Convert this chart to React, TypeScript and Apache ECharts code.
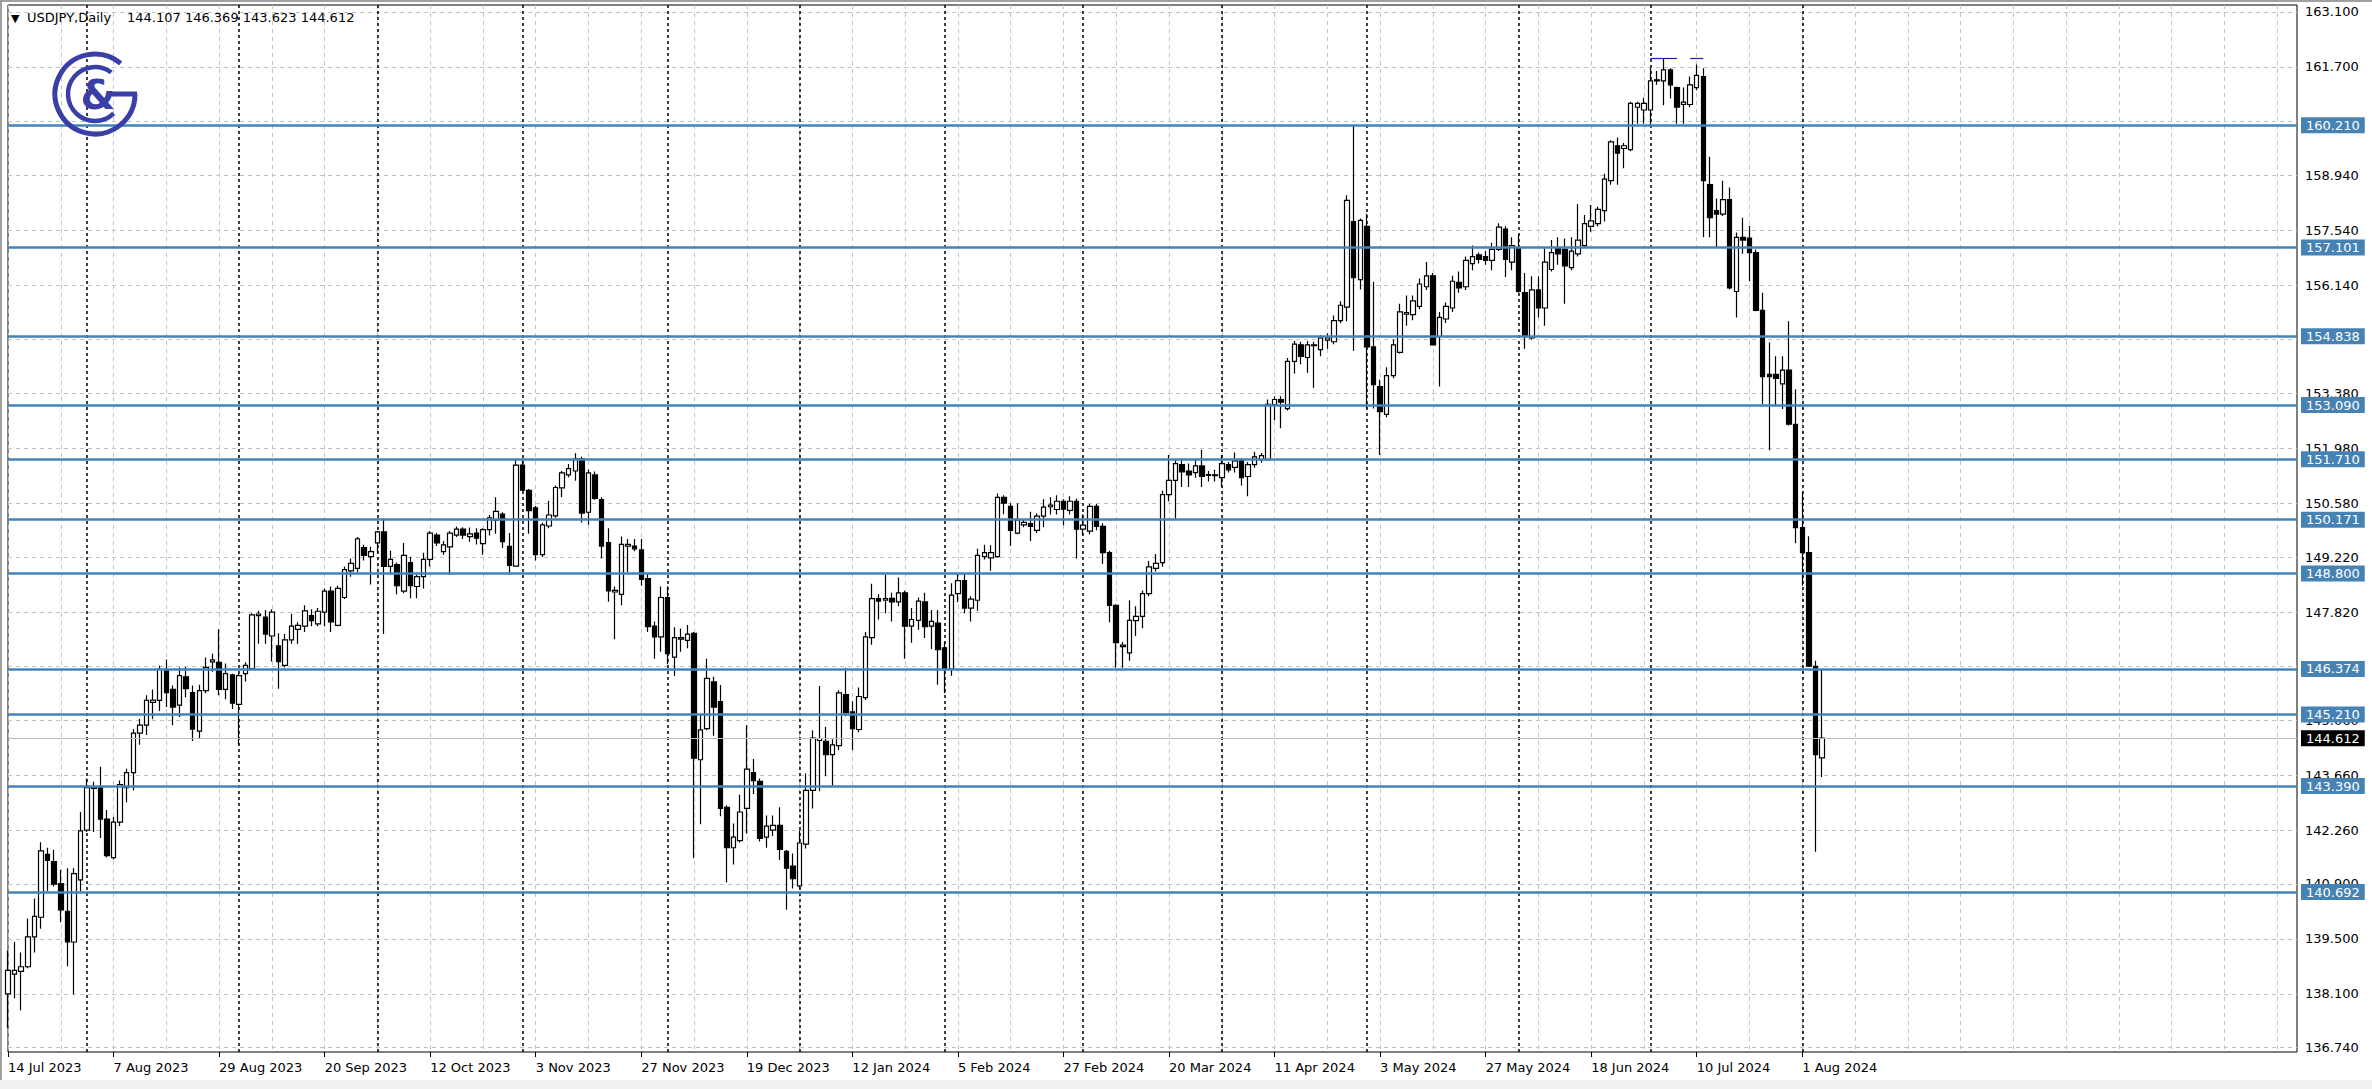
import React, { useEffect, useRef } from "react";
import * as echarts from "echarts";

// ---------- DATA ----------
const opens = [
  138.10, 138.60, 138.67, 138.79, 139.55, 140.05, 141.65, 141.47, 140.91, 140.20,
  139.42, 141.00, 142.27, 143.33, 143.35, 142.55, 141.57, 142.47, 143.35, 143.73,
  144.74, 144.94, 145.52, 145.57, 146.36, 145.85, 145.45, 146.17, 145.77, 144.79,
  145.82, 146.55, 146.54, 145.85, 146.22, 145.47, 146.25, 146.38, 147.73, 147.69,
  147.21, 146.96, 146.46, 147.11, 147.38, 147.46, 147.73, 147.52, 147.82, 148.35,
  147.48, 148.19, 148.87, 148.93, 149.46, 149.23, 149.58, 149.86, 148.98, 149.03,
  148.35, 149.08, 148.47, 148.72, 149.16, 149.78, 149.36, 149.48, 149.78, 149.93,
  149.74, 149.83, 149.56, 149.92, 150.16, 150.31, 149.49, 148.99, 151.56, 150.92,
  150.47, 149.28, 150.01, 150.27, 150.98, 151.31, 151.41, 151.72, 150.36, 151.31,
  150.68, 149.59, 148.33, 148.27, 149.50, 149.50, 149.40, 148.67, 147.46, 147.19,
  148.19, 146.67, 147.13, 147.10, 147.28, 144.06, 144.85, 146.04, 145.54, 142.85,
  141.82, 142.00, 142.82, 143.73, 143.51, 142.09, 142.27, 142.39, 141.73, 141.35,
  140.85, 141.91, 143.28, 144.55, 144.53, 144.19, 144.42, 145.72, 145.28, 144.83,
  145.64, 147.17, 148.16, 148.12, 148.17, 148.08, 148.31, 147.46, 147.61, 148.08,
  147.46, 147.54, 146.91, 146.37, 148.29, 148.62, 147.92, 148.12, 149.23, 149.20,
  149.23, 150.74, 150.51, 149.83, 150.04, 150.07, 149.90, 150.26, 150.50, 150.43,
  150.64, 150.41, 150.64, 149.93, 149.88, 150.51, 150.00, 149.33, 147.99, 146.94,
  146.78, 147.60, 147.71, 148.29, 148.93, 149.08, 150.81, 151.17, 151.57, 151.41,
  151.37, 151.54, 151.30, 151.31, 151.24, 151.57, 151.50, 151.69, 151.27, 151.57,
  151.70, 151.70, 153.10, 153.23, 153.00, 154.20, 154.62, 154.30, 154.60, 154.50,
  154.74, 154.70, 155.24, 155.58, 157.76, 156.28, 157.64, 154.57, 153.56, 152.85,
  153.84, 154.43, 155.40, 155.39, 155.60, 156.10, 156.38, 154.83, 155.28, 155.56,
  156.21, 156.10, 156.69, 156.91, 156.87, 156.77, 157.05, 157.57, 156.73, 157.08,
  155.95, 154.80, 156.02, 155.56, 156.54, 157.08, 157.05, 156.59, 156.94, 157.15,
  157.64, 157.71, 158.04, 158.80, 159.69, 159.62, 159.59, 160.67, 160.60, 160.60,
  161.37, 161.34, 161.62, 161.17, 160.74, 160.74, 161.17, 161.45, 158.70, 158.04,
  157.95, 158.32, 155.98, 157.36, 157.34, 156.97, 155.50, 153.87, 153.87, 153.63,
  153.98, 152.60, 149.97, 149.33, 146.44, 144.107,
];
const highs = [
  139.20, 139.42, 139.15, 140.02, 140.53, 141.96, 141.82, 141.77, 141.26, 141.30,
  141.30, 142.73, 143.58, 143.50, 143.88, 142.78, 142.60, 143.53, 143.83, 144.84,
  145.10, 145.70, 145.85, 146.46, 146.61, 145.95, 146.41, 146.42, 145.95, 145.97,
  146.66, 146.76, 147.38, 146.51, 146.25, 146.25, 146.54, 147.79, 147.85, 147.87,
  147.89, 147.28, 147.26, 147.77, 147.56, 147.99, 147.89, 147.92, 148.42, 148.47,
  148.49, 148.98, 149.18, 149.73, 149.53, 149.48, 149.88, 150.21, 149.38, 149.08,
  149.58, 149.23, 148.77, 149.33, 149.88, 149.83, 149.63, 149.88, 150.00, 149.98,
  149.97, 149.95, 149.95, 150.29, 150.74, 150.36, 149.83, 151.72, 151.72, 150.95,
  150.52, 150.09, 150.65, 151.04, 151.41, 151.59, 151.86, 151.77, 151.45, 151.40,
  150.74, 149.95, 148.47, 149.74, 149.68, 149.68, 149.68, 148.81, 147.58, 148.47,
  148.47, 147.43, 147.40, 147.49, 147.31, 145.22, 146.63, 146.17, 145.96, 142.90,
  142.44, 143.17, 144.94, 144.08, 143.58, 142.64, 142.64, 142.85, 141.76, 141.67,
  142.26, 143.71, 144.81, 145.94, 144.90, 144.58, 145.83, 146.40, 145.55, 145.90,
  147.31, 148.54, 148.27, 148.77, 148.31, 148.70, 148.36, 147.92, 148.19, 148.31,
  147.87, 147.87, 147.06, 148.55, 148.82, 148.79, 148.22, 149.43, 149.53, 149.52,
  150.84, 150.79, 150.59, 150.59, 150.16, 150.37, 150.33, 150.69, 150.74, 150.79,
  150.69, 150.77, 150.71, 150.30, 150.57, 150.57, 150.08, 149.38, 148.02, 147.06,
  148.12, 147.97, 148.37, 149.12, 149.30, 150.91, 151.82, 151.70, 151.72, 151.60,
  151.72, 151.95, 151.41, 151.44, 151.82, 151.64, 151.88, 151.74, 151.64, 151.90,
  151.87, 153.23, 153.31, 153.31, 154.29, 154.72, 154.70, 154.72, 154.70, 154.87,
  154.92, 155.37, 155.73, 158.43, 160.21, 157.84, 157.96, 156.23, 153.73, 154.05,
  154.76, 155.67, 155.88, 155.88, 156.31, 156.73, 156.45, 155.46, 155.70, 156.38,
  156.49, 156.87, 157.15, 156.97, 157.01, 157.22, 157.72, 157.64, 157.36, 157.43,
  156.45, 156.37, 156.37, 157.08, 157.29, 157.36, 157.33, 157.36, 158.21, 157.93,
  158.18, 158.14, 158.98, 159.83, 159.90, 159.76, 160.81, 160.81, 160.91, 161.66,
  161.59, 161.90, 161.66, 161.20, 161.17, 161.45, 161.76, 161.66, 159.41, 158.35,
  158.80, 158.63, 157.48, 157.86, 157.65, 157.05, 155.95, 154.68, 154.33, 154.33,
  155.22, 153.49, 150.88, 149.75, 146.58, 146.369,
];
const lows = [
  137.24, 137.99, 137.68, 138.75, 139.15, 139.76, 140.71, 140.83, 139.92, 138.80,
  138.09, 140.71, 142.22, 142.22, 142.07, 141.57, 141.52, 142.37, 142.98, 143.28,
  144.44, 144.69, 145.09, 145.30, 145.40, 144.94, 145.15, 145.65, 144.54, 144.59,
  145.75, 146.30, 145.70, 145.60, 145.35, 144.44, 146.05, 146.36, 147.01, 147.01,
  146.56, 145.87, 146.41, 147.01, 147.01, 147.31, 147.46, 147.46, 147.46, 147.31,
  147.46, 148.15, 148.72, 148.83, 149.13, 148.52, 149.33, 147.26, 148.78, 148.27,
  148.30, 148.17, 148.17, 148.42, 148.98, 149.50, 149.28, 148.76, 149.73, 149.68,
  149.61, 149.54, 149.28, 149.77, 149.81, 149.45, 148.77, 148.97, 150.90, 149.81,
  149.13, 149.22, 149.95, 150.22, 150.74, 151.25, 151.16, 150.10, 150.04, 150.68,
  149.18, 148.08, 147.13, 147.99, 148.83, 149.37, 148.49, 147.31, 146.63, 146.81,
  146.49, 146.19, 146.81, 146.90, 141.55, 142.42, 144.81, 144.67, 142.62, 140.94,
  141.39, 141.95, 142.18, 143.19, 141.98, 141.82, 142.12, 141.51, 140.24, 140.78,
  140.76, 141.80, 142.82, 143.26, 143.64, 143.40, 144.31, 145.17, 144.31, 144.76,
  145.58, 146.99, 147.63, 147.79, 147.58, 147.97, 146.63, 147.04, 147.37, 147.16,
  146.88, 145.97, 145.75, 146.20, 148.07, 147.79, 147.58, 147.85, 149.16, 148.87,
  149.20, 150.31, 149.50, 149.80, 149.98, 149.63, 149.83, 149.98, 150.30, 150.30,
  150.03, 150.30, 149.18, 149.78, 149.80, 149.90, 149.05, 147.56, 146.40, 146.40,
  146.58, 147.21, 147.41, 148.22, 148.85, 148.97, 150.64, 150.20, 151.00, 151.00,
  151.24, 151.00, 151.14, 151.14, 151.01, 151.37, 151.37, 151.04, 150.77, 151.49,
  151.62, 151.68, 152.70, 152.50, 152.95, 153.89, 154.13, 153.91, 153.53, 154.33,
  154.52, 154.64, 155.17, 155.22, 154.47, 156.03, 153.00, 153.00, 151.82, 152.78,
  153.77, 154.40, 155.11, 155.25, 155.53, 156.02, 154.60, 153.56, 155.18, 155.46,
  155.95, 156.02, 156.52, 156.69, 156.66, 156.52, 157.01, 156.35, 156.52, 155.95,
  154.52, 154.76, 155.32, 155.11, 156.49, 156.66, 155.67, 156.52, 156.87, 157.11,
  157.50, 157.64, 157.76, 158.70, 158.70, 159.12, 159.55, 160.25, 160.25, 160.21,
  161.24, 160.72, 160.89, 160.25, 160.25, 160.67, 161.10, 157.36, 157.36, 157.11,
  157.90, 156.03, 155.32, 156.94, 156.24, 155.48, 153.11, 151.94, 153.06, 152.99,
  152.57, 149.57, 148.49, 146.42, 141.72, 143.623,
];
const closes = [
  138.70, 138.70, 138.79, 139.55, 140.07, 141.74, 141.50, 140.89, 140.24, 139.42,
  141.16, 142.25, 143.35, 143.37, 142.55, 141.62, 142.47, 143.43, 143.73, 144.74,
  144.94, 145.57, 145.58, 146.36, 145.77, 145.40, 146.20, 145.87, 144.84, 145.82,
  146.41, 146.60, 145.85, 146.25, 145.50, 146.20, 146.46, 147.75, 147.77, 147.26,
  147.82, 146.56, 147.11, 147.46, 147.48, 147.85, 147.60, 147.84, 148.35, 147.57,
  148.42, 148.90, 149.06, 149.68, 149.26, 149.36, 149.86, 148.98, 149.16, 148.49,
  149.26, 148.49, 148.72, 149.16, 149.83, 149.58, 149.53, 149.83, 149.93, 149.78,
  149.81, 149.70, 149.92, 150.22, 150.38, 149.61, 149.01, 151.56, 150.92, 150.40,
  149.28, 150.04, 150.29, 150.99, 151.36, 151.47, 151.72, 150.34, 151.36, 150.71,
  149.50, 148.36, 148.37, 149.54, 149.54, 149.43, 148.65, 147.45, 147.19, 148.19,
  146.76, 147.17, 147.17, 147.26, 144.10, 144.82, 146.13, 145.40, 142.82, 141.82,
  142.09, 142.73, 143.82, 143.53, 142.06, 142.37, 142.39, 141.78, 141.30, 141.03,
  141.94, 143.28, 144.61, 144.60, 144.19, 144.44, 145.76, 145.26, 144.85, 145.67,
  147.19, 148.16, 148.10, 148.16, 148.08, 148.31, 147.46, 147.63, 148.10, 147.45,
  147.58, 146.86, 146.37, 148.25, 148.62, 147.92, 148.15, 149.26, 149.33, 149.33,
  150.74, 150.59, 149.90, 150.16, 150.10, 150.00, 150.26, 150.49, 150.54, 150.64,
  150.44, 150.64, 149.93, 150.03, 150.51, 150.00, 149.33, 147.99, 147.04, 146.98,
  147.61, 147.71, 148.29, 148.97, 149.06, 150.81, 151.17, 151.60, 151.39, 151.31,
  151.54, 151.27, 151.32, 151.29, 151.60, 151.44, 151.67, 151.24, 151.57, 151.77,
  151.80, 153.11, 153.23, 153.16, 154.20, 154.64, 154.33, 154.62, 154.62, 154.80,
  154.80, 155.24, 155.63, 158.30, 156.33, 157.79, 154.57, 153.61, 152.92, 153.84,
  154.62, 155.46, 155.44, 155.74, 156.17, 156.38, 154.62, 155.32, 155.60, 156.24,
  156.07, 156.77, 156.87, 156.80, 156.77, 157.05, 157.62, 156.80, 157.15, 155.98,
  154.83, 156.02, 155.56, 156.73, 156.97, 156.94, 156.63, 157.01, 157.29, 157.71,
  157.78, 158.07, 158.84, 159.79, 159.50, 159.69, 160.77, 160.77, 160.77, 161.34,
  161.34, 161.62, 161.24, 160.67, 160.80, 161.24, 161.48, 158.80, 157.86, 157.95,
  158.32, 156.07, 157.36, 157.29, 156.97, 155.50, 153.81, 153.81, 153.77, 153.98,
  152.60, 149.97, 149.33, 146.44, 144.19, 144.612,
];

// categories: trading days from 14 Jul 2023 (broker skips these holidays)
const firstDay = [2023, 6, 14];
const skippedDays = ["2023-12-25", "2024-01-01"];
const futureSlots = 72;

const dateTickLabels = [
  "14 Jul 2023", "7 Aug 2023", "29 Aug 2023", "20 Sep 2023", "12 Oct 2023",
  "3 Nov 2023", "27 Nov 2023", "19 Dec 2023", "12 Jan 2024", "5 Feb 2024",
  "27 Feb 2024", "20 Mar 2024", "11 Apr 2024", "3 May 2024", "27 May 2024",
  "18 Jun 2024", "10 Jul 2024", "1 Aug 2024",
];

const priceTicks = [
  163.1, 161.7, 160.32, 158.94, 157.54, 156.14, 154.76, 153.38, 151.98, 150.58,
  149.22, 147.82, 146.44, 145.06, 143.66, 142.26, 140.9, 139.5, 138.1, 136.74,
];
const hiddenTicks = [160.32, 146.44];

const levelValues = [160.21, 157.101, 154.838, 153.09, 151.71, 150.171, 148.8, 146.374, 145.21, 143.39, 140.692];
const lastPrice = 144.612;
const topMarkPrice = 161.92;
const topMarkSpans = [[249, 253], [255, 257]];

const titleSymbol = "USDJPY,Daily";
const titleValues = "144.107 146.369 143.623 144.612";

// ---------- LAYOUT ----------
const W = 2372;
const H = 1089;
const LEVEL_BLUE = "#4682b4";
const LOGO_BLUE = "#3a3fa8";

function buildDates(count: number): string[] {
  const out: string[] = [];
  const d = new Date(Date.UTC(firstDay[0], firstDay[1], firstDay[2]));
  while (out.length < count) {
    const dow = d.getUTCDay();
    const iso = d.toISOString().slice(0, 10);
    if (dow !== 0 && dow !== 6 && !skippedDays.includes(iso)) out.push(iso);
    d.setUTCDate(d.getUTCDate() + 1);
  }
  return out;
}

export default function App() {
  const ref = useRef<HTMLDivElement>(null);

  useEffect(() => {
    if (!ref.current) return;
    const chart = echarts.init(ref.current, null, { renderer: "svg" });
    const n = opens.length;
    const dates = buildDates(n + futureSlots);
    const candleData = opens.map((o, i) => [o, closes[i], lows[i], highs[i]]);
    const monthStarts: number[] = [];
    for (let i = 1; i < n; i++) {
      if (dates[i].slice(0, 7) !== dates[i - 1].slice(0, 7)) monthStarts.push(i);
    }
    const font = "DejaVu Sans";

    const gridLines: any[] = priceTicks.map((v) => ({
      yAxis: v,
      lineStyle: { color: "#c2c2c2", type: [4, 4], width: 1 },
      label: {
        show: !hiddenTicks.includes(v),
        position: "end",
        formatter: v.toFixed(3),
        color: "#000",
        fontSize: 13,
        fontFamily: font,
        distance: 8,
      },
    }));
    const sepLines: any[] = monthStarts.map((i) => ({
      xAxis: i,
      lineStyle: { color: "#000", type: [3, 3], width: 1.5 },
      label: { show: false },
    }));

    const levelLines: any[] = levelValues.map((v) => ({
      yAxis: v,
      lineStyle: { color: LEVEL_BLUE, width: 2.5, type: "solid" },
      label: {
        show: true,
        position: "end",
        formatter: v.toFixed(3),
        color: "#fff",
        backgroundColor: LEVEL_BLUE,
        padding: [2, 5, 1, 5],
        fontSize: 13,
        fontFamily: font,
        distance: 4,
      },
    }));
    levelLines.push({
      yAxis: lastPrice,
      lineStyle: { color: "#bdbdbd", width: 1, type: "solid" },
      label: {
        show: true,
        position: "end",
        formatter: lastPrice.toFixed(3),
        color: "#fff",
        backgroundColor: "#000",
        padding: [2, 5, 1, 5],
        fontSize: 13,
        fontFamily: font,
        distance: 4,
      },
    });
    topMarkSpans.forEach(([a, b]) => {
      levelLines.push([
        { coord: [dates[a], topMarkPrice], lineStyle: { color: "#2020a0", width: 1.2, type: "solid" }, label: { show: false } },
        { coord: [dates[b], topMarkPrice] },
      ]);
    });

    const option: any = {
      animation: false,
      backgroundColor: "#ffffff",
      textStyle: { fontFamily: font },
      grid: {
        left: 8,
        right: W - 2297,
        top: 5,
        bottom: H - 1052,
        show: true,
        borderColor: "#000",
        borderWidth: 1,
        backgroundColor: "transparent",
      },
      xAxis: {
        type: "category",
        data: dates,
        boundaryGap: false,
        axisLine: { show: false },
        axisTick: {
          show: true,
          interval: (i: number) => i % 16 === 0 && i < n,
          length: 5,
          lineStyle: { color: "#000", width: 1 },
        },
        axisLabel: {
          interval: (i: number) => i % 16 === 0 && i < n,
          formatter: (value: string) => {
            const idx = dates.indexOf(value);
            return dateTickLabels[idx / 16] ?? "";
          },
          align: "left",
          margin: 9,
          fontSize: 13,
          color: "#000",
          fontFamily: font,
        },
        splitLine: {
          show: true,
          interval: (i: number) => i % 8 === 0,
          lineStyle: { color: "#c2c2c2", type: [4, 4], width: 1 },
        },
      },
      yAxis: {
        type: "value",
        position: "right",
        min: 136.62,
        max: 163.273,
        scale: true,
        axisLine: { show: false },
        axisTick: { show: false },
        axisLabel: { show: false },
        splitLine: { show: false },
      },
      series: [
        {
          name: "grid",
          type: "line",
          data: [],
          silent: true,
          z: 1,
          markLine: {
            silent: true,
            symbol: ["none", "none"],
            z: 1,
            data: [...gridLines, ...sepLines],
          },
        },
        {
          name: "USDJPY",
          type: "candlestick",
          data: candleData,
          barWidth: 5,
          z: 3,
          itemStyle: {
            color: "#ffffff",
            color0: "#000000",
            borderColor: "#000000",
            borderColor0: "#000000",
            borderWidth: 1.2,
          },
        },
        {
          name: "levels",
          type: "line",
          data: [],
          silent: true,
          z: 5,
          markLine: {
            silent: true,
            symbol: ["none", "none"],
            z: 6,
            data: levelLines,
          },
        },
      ],
      graphic: [
        { type: "rect", left: 0, top: 0, shape: { width: W, height: 2 }, style: { fill: "#a0a0a0" }, z: 10 },
        { type: "rect", left: 0, top: 0, shape: { width: 2, height: H }, style: { fill: "#a0a0a0" }, z: 10 },
        { type: "rect", left: 0, top: H - 9, shape: { width: W, height: 9 }, style: { fill: "#f0f0f0" }, z: 10 },
        {
          type: "text",
          left: 11,
          top: 13,
          style: { text: "▼", fill: "#000", font: `11px "${font}"` },
          z: 20,
        },
        {
          type: "text",
          left: 27,
          top: 11,
          style: { text: titleSymbol, fill: "#000", font: `13px "${font}"` },
          z: 20,
        },
        {
          type: "text",
          left: 127,
          top: 11,
          style: { text: titleValues, fill: "#000", font: `13px "${font}"` },
          z: 20,
        },
        {
          type: "group",
          z: 20,
          children: [
            {
              type: "arc",
              shape: { cx: 95, cy: 94, r: 40, startAngle: 0, endAngle: (310 * Math.PI) / 180, clockwise: true },
              style: { stroke: LOGO_BLUE, lineWidth: 5, fill: "none" },
              z: 20,
            },
            {
              type: "line",
              shape: { x1: 110, y1: 94, x2: 137, y2: 94 },
              style: { stroke: LOGO_BLUE, lineWidth: 5 },
              z: 20,
            },
            {
              type: "arc",
              shape: { cx: 95, cy: 94, r: 27, startAngle: (46 * Math.PI) / 180, endAngle: (307 * Math.PI) / 180, clockwise: true },
              style: { stroke: LOGO_BLUE, lineWidth: 4.5, fill: "none" },
              z: 20,
            },
            {
              type: "text",
              x: 98,
              y: 95,
              style: {
                text: "&",
                fill: LOGO_BLUE,
                font: `bold 40px "${font}"`,
                textAlign: "center",
                textVerticalAlign: "middle",
              },
              z: 21,
            },
          ],
        },
      ],
    };

    chart.setOption(option);
    return () => chart.dispose();
  }, []);

  return (
    <div
      ref={ref}
      style={{ position: "fixed", left: 0, top: 0, width: W, height: H, background: "#fff" }}
    />
  );
}
